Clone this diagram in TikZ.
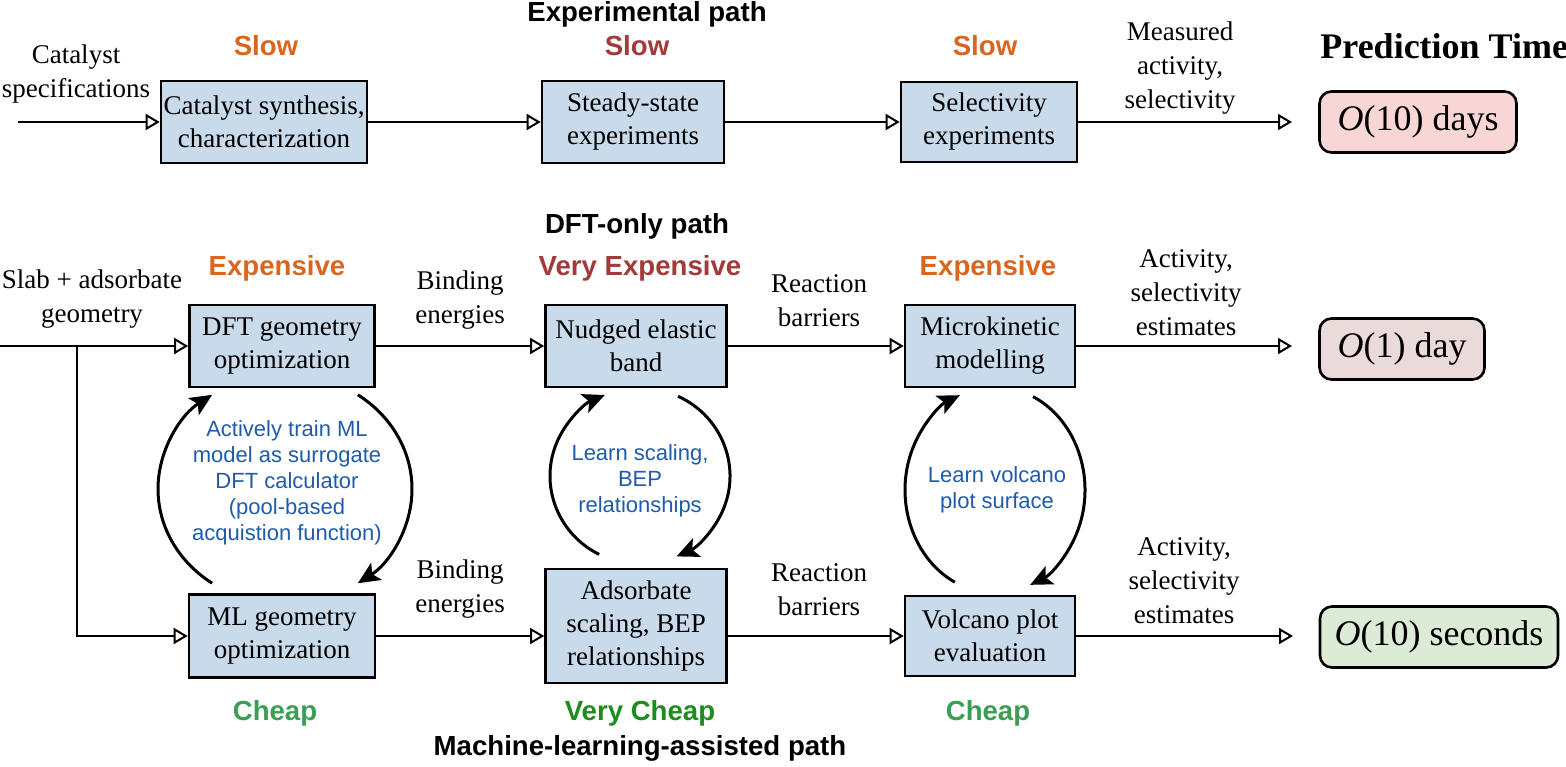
\documentclass[tikz,border=0pt]{standalone}
\usepackage{fontspec}
\setmainfont{Liberation Serif}
\setsansfont{Liberation Sans}
\usetikzlibrary{arrows.meta,calc}
\definecolor{boxfill}{HTML}{C9DAEB}
\definecolor{costorange}{HTML}{D9661E}
\definecolor{costred}{HTML}{A33A3A}
\definecolor{cheapgreen}{HTML}{3A9E55}
\definecolor{vcheapgreen}{HTML}{1E8C1E}
\definecolor{noteblue}{HTML}{1F5BAA}
\definecolor{predpink}{HTML}{F9D6D6}
\definecolor{predrose}{HTML}{EBDADA}
\definecolor{predgreen}{HTML}{DCEBD6}
\tikzset{
 proc/.style={draw=black, line width=1.3pt, fill=boxfill, align=center, inner sep=0pt, font=\fontsize{13.5}{16.5}\selectfont},
 lbl/.style={align=center, inner sep=0pt, font=\fontsize{13.5}{17}\selectfont},
 cost/.style={inner sep=0pt, font=\sffamily\bfseries\fontsize{13.8}{15}\selectfont},
 pathname/.style={inner sep=0pt, font=\sffamily\bfseries\fontsize{13.8}{15}\selectfont},
 note/.style={align=center, inner sep=0pt, text=noteblue, font=\sffamily\fontsize{11}{13}\selectfont},
 pred/.style={draw=black, line width=1.3pt, rounded corners=6pt, align=center, inner sep=0pt, font=\fontsize{18}{20}\selectfont},
 flow/.style={line width=1pt, -{Triangle[open, length=7pt, width=8pt]}},
 loop/.style={line width=1.5pt, -{Stealth[length=11pt, width=10pt, inset=2.5pt]}},
}
\begin{document}
\begin{tikzpicture}[x=0.5pt, y=-0.5pt]
\useasboundingbox (0,0) rectangle (1566,766);

% ---------- top row: experimental path ----------
\node[pathname] (exptitle) at (647,14) {Experimental path};
\node[cost, text=costorange] (s1) at (266,46) {Slow};
\node[cost, text=costred] (s2) at (637,46) {Slow};
\node[cost, text=costorange] (s3) at (985,46) {Slow};
\node[inner sep=0pt, font=\bfseries\fontsize{18}{20}\selectfont, anchor=west] (ptitle) at (1320,46) {Prediction Time};

\node[proc, minimum width=103pt, minimum height=41pt] (b1) at (264,122) {Catalyst synthesis,\\characterization};
\node[proc, minimum width=91pt, minimum height=41pt] (b2) at (633,122) {Steady-state\\experiments};
\node[proc, minimum width=88pt, minimum height=40pt] (b3) at (989,122) {Selectivity\\experiments};
\node[pred, fill=predpink, minimum width=98.5pt, minimum height=30.5pt] (p1) at (1418,122) {\textit{O}(10) days};

\node[lbl] (lspec) at (76,74) {Catalyst\\specifications};
\node[lbl] (lmeas) at (1180,68) {Measured\\activity,\\selectivity};

\coordinate (in1) at (18,122);
\coordinate (out1) at (1292,122);
\draw[flow] (in1) -- (b1);
\draw[flow] (b1) -- (b2);
\draw[flow] (b2) -- (b3);
\draw[flow] (b3) -- (out1);

% ---------- middle row: DFT-only path ----------
\node[pathname] (dfttitle) at (637,226) {DFT-only path};
\node[cost, text=costorange] (e1) at (277,268) {Expensive};
\node[cost, text=costred] (e2) at (640,268) {Very Expensive};
\node[cost, text=costorange] (e3) at (988,268) {Expensive};

\node[proc, minimum width=92.5pt, minimum height=41pt] (m1) at (282,346) {DFT geometry\\optimization};
\node[proc, minimum width=90.5pt, minimum height=41pt] (m2) at (636,346) {Nudged elastic\\band};
\node[proc, minimum width=85pt, minimum height=41pt] (m3) at (990,346) {Microkinetic\\modelling};
\node[pred, fill=predrose, minimum width=82.5pt, minimum height=30.5pt] (p2) at (1402,349) {\textit{O}(1) day};

\node[lbl] (lslab) at (92,299) {Slab + adsorbate\\geometry};
\node[lbl] (lbind1) at (460,300) {Binding\\energies};
\node[lbl] (lreac1) at (819,301) {Reaction\\barriers};
\node[lbl] (lact1) at (1186,293) {Activity,\\selectivity\\estimates};

\coordinate (in2) at (0,346);
\coordinate (br) at (77,346);
\coordinate (out2) at (1292,346);
\draw[flow] (in2) -- (m1);
\draw[flow] (m1) -- (m2);
\draw[flow] (m2) -- (m3);
\draw[flow] (m3) -- (out2);

% ---------- bottom row: ML-assisted path ----------
\node[proc, minimum width=93pt, minimum height=41.5pt] (l1) at (282,636) {ML geometry\\optimization};
\node[proc, minimum width=90.5pt, minimum height=57pt] (l2) at (636,626) {Adsorbate\\scaling, BEP\\relationships};
\node[proc, minimum width=85pt, minimum height=40pt] (l3) at (990,636) {Volcano plot\\evaluation};
\node[pred, fill=predgreen, minimum width=119pt, minimum height=30.5pt] (p3) at (1439,637) {\textit{O}(10) seconds};

\node[lbl] (lbind2) at (460,589) {Binding\\energies};
\node[lbl] (lreac2) at (819,590) {Reaction\\barriers};
\node[lbl] (lact2) at (1184,581) {Activity,\\selectivity\\estimates};

\node[cost, text=cheapgreen] (c1lbl) at (275,713) {Cheap};
\node[cost, text=vcheapgreen] (c2lbl) at (640,713) {Very Cheap};
\node[cost, text=cheapgreen] (c3lbl) at (988,713) {Cheap};
\node[pathname] (mltitle) at (640,748) {Machine-learning-assisted path};

\coordinate (out3) at (1293,636);
\draw[flow] (br) |- (l1);
\draw[flow] (l1) -- (l1 -| l2.west);
\draw[flow] (l2.east |- l3) -- (l3);
\draw[flow] (l3) -- (out3);

% ---------- learning loops ----------
\coordinate (c1) at (285,489);
\coordinate (c2) at (640,476);
\coordinate (c3) at (995,490);
\draw[loop] ($(c1)+(235:63.5pt and 57.5pt)$) arc[start angle=235, end angle=125, x radius=63.5pt, y radius=57.5pt];
\draw[loop] ($(c1)+(55:63.5pt and 57.5pt)$) arc[start angle=55, end angle=-55, x radius=63.5pt, y radius=57.5pt];
\draw[loop] ($(c2)+(243:45pt and 44pt)$) arc[start angle=243, end angle=113, x radius=45pt, y radius=44pt];
\draw[loop] ($(c2)+(65:45pt and 44pt)$) arc[start angle=65, end angle=-66, x radius=45pt, y radius=44pt];
\draw[loop] ($(c3)+(243.5:45pt and 51.5pt)$) arc[start angle=243.5, end angle=113, x radius=45pt, y radius=51.5pt];
\draw[loop] ($(c3)+(65:45pt and 51.5pt)$) arc[start angle=65, end angle=-67, x radius=45pt, y radius=51.5pt];

\node[note] (n1) at (287,483) {Actively train ML\\model as surrogate\\DFT calculator\\(pool-based\\acquistion function)};
\node[note] (n2) at (640,481) {Learn scaling,\\BEP\\relationships};
\node[note] (n3) at (997,490) {Learn volcano\\plot surface};
\end{tikzpicture}
\end{document}
